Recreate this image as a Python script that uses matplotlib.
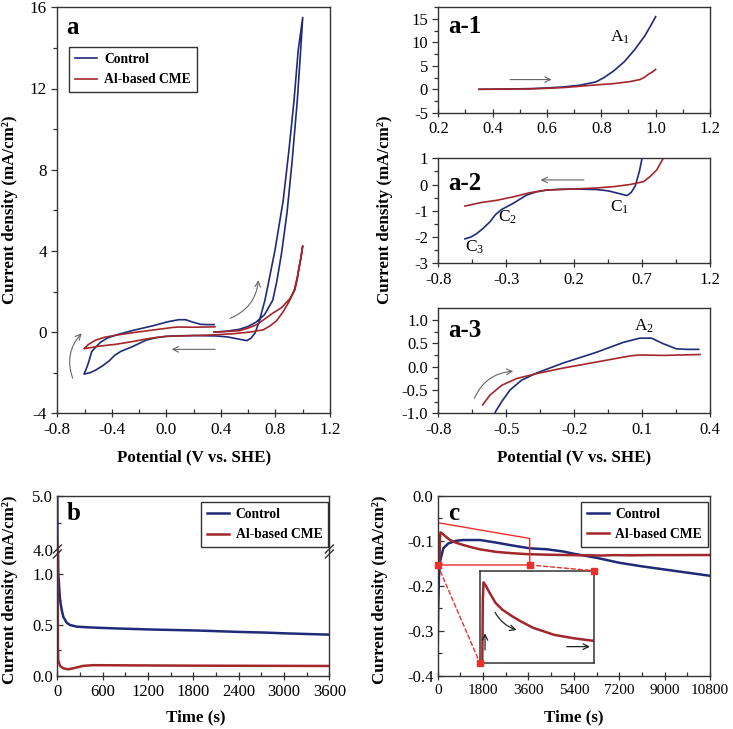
import matplotlib
matplotlib.use('Agg')
import matplotlib.pyplot as plt
import numpy as np
from matplotlib.ticker import FixedLocator, FormatStrFormatter
from matplotlib.patches import ConnectionPatch
from matplotlib.lines import Line2D

plt.rcParams['font.family'] = ['Liberation Serif', 'DejaVu Serif']
plt.rcParams['mathtext.fontset'] = 'custom'
plt.rcParams['mathtext.rm'] = 'Liberation Serif'
plt.rcParams['mathtext.it'] = 'Liberation Serif:italic'
plt.rcParams['axes.unicode_minus'] = False

# ---------------- DATA ----------------
# Cyclic voltammetry, Control: forward 0.35->1.0, reverse 1.0->-0.6, forward -0.6->0.35
ctrl_fwd1_E = [0.35, 0.45, 0.537, 0.60, 0.66, 0.72, 0.78, 0.81, 0.845, 0.885, 0.922, 0.96, 0.982, 1.0]
ctrl_fwd1_I = [0.0, 0.05, 0.14, 0.28, 0.5, 0.86, 1.57, 2.5, 3.9, 5.9, 8.4, 11.4, 13.6, 15.5]
ctrl_rev_E = [1.0, 0.967, 0.936, 0.899, 0.857, 0.797, 0.745, 0.723, 0.70, 0.68, 0.65, 0.62, 0.59,
              0.55, 0.513, 0.45, 0.366, 0.2, 0.1, -0.003, -0.08, -0.15, -0.25, -0.334, -0.38,
              -0.42, -0.47, -0.518, -0.56, -0.604]
ctrl_rev_I = [15.5, 13.9, 11.4, 8.97, 6.5, 4.05, 2.3, 1.58, 1.0, 0.5, -0.05, -0.3, -0.42,
              -0.37, -0.32, -0.24, -0.19, -0.17, -0.18, -0.21, -0.28, -0.40, -0.72, -0.95, -1.15,
              -1.42, -1.67, -1.87, -2.0, -2.07]
ctrl_fwd2_E = [-0.604, -0.59, -0.573, -0.548, -0.52, -0.483, -0.432, -0.365, -0.248, -0.1, 0.017,
               0.09, 0.142, 0.194, 0.253, 0.30, 0.35]
ctrl_fwd2_I = [-2.07, -1.85, -1.54, -0.97, -0.75, -0.5, -0.29, -0.135, 0.078, 0.31, 0.52,
               0.61, 0.61, 0.49, 0.38, 0.37, 0.37]

# Cyclic voltammetry, Al-based CME
cme_fwd1_E = [0.35, 0.45, 0.537, 0.60, 0.66, 0.72, 0.78, 0.844, 0.905, 0.942, 0.96, 0.973, 0.988, 1.0]
cme_fwd1_I = [0.0, 0.03, 0.07, 0.2, 0.36, 0.64, 0.93, 1.2, 1.64, 2.07, 2.6, 3.2, 3.7, 4.25]
cme_rev_E = [1.0, 0.98, 0.96, 0.935, 0.9, 0.856, 0.807, 0.758, 0.71, 0.61, 0.49, 0.366, 0.2,
             -0.003, -0.125, -0.25, -0.37, -0.49, -0.604]
cme_rev_I = [4.25, 3.4, 2.7, 2.0, 1.5, 1.0, 0.55, 0.30, 0.11, 0.0, -0.08, -0.13, -0.17,
             -0.21, -0.31, -0.47, -0.6, -0.69, -0.82]
cme_fwd2_E = [-0.604, -0.601, -0.572, -0.52, -0.454, -0.366, -0.248, -0.1, 0.047, 0.09, 0.194, 0.356]
cme_fwd2_I = [-0.82, -0.80, -0.61, -0.40, -0.255, -0.15, -0.03, 0.1, 0.23, 0.25, 0.24, 0.26]

# Chronoamperometry (b)
b_ctrl_t = [0, 4, 13, 36, 58, 80, 124, 168, 256, 433, 786, 1227, 1884, 2400, 2768, 3000, 3600]
b_ctrl_j = [5.6, 1.6, 1.01, 0.747, 0.649, 0.58, 0.523, 0.50, 0.484, 0.476, 0.466, 0.456,
            0.445, 0.432, 0.425, 0.418, 0.405]
b_cme_t = [0, 8, 13, 36, 80, 146, 212, 344, 476, 700, 1200, 1800, 2400, 3000, 3600]
b_cme_j = [4.18, 0.3, 0.15, 0.096, 0.073, 0.063, 0.073, 0.097, 0.104, 0.103, 0.101, 0.099,
           0.098, 0.097, 0.096]

# Chronoamperometry (c)
c_ctrl_t = [0, 20, 50, 91, 222, 420, 750, 1015, 1678, 2340, 3000, 3660, 4320, 4980, 5400,
            6300, 7200, 8100, 9000, 9900, 10800]
c_ctrl_j = [-0.34, -0.25, -0.18, -0.147, -0.117, -0.106, -0.100, -0.0985, -0.0985, -0.1044,
            -0.111, -0.117, -0.119, -0.124, -0.129, -0.138, -0.149, -0.157, -0.164, -0.171, -0.178]
c_cme_t = [0, 70, 90, 110, 200, 300, 488, 700, 1015, 1300, 1678, 2000, 2340, 3000, 3600,
           4300, 4980, 6000, 6500, 7000, 7627, 8500, 9500, 10800]
c_cme_j = [-0.17, -0.155, -0.095, -0.0814, -0.085, -0.090, -0.0984, -0.104, -0.1096, -0.114,
           -0.1192, -0.122, -0.125, -0.128, -0.130, -0.131, -0.1318, -0.1325, -0.133, -0.132,
           -0.1325, -0.132, -0.132, -0.1318]

series_labels = ['Control', 'Al-based CME']

a_xticks = [-0.8, -0.4, 0.0, 0.4, 0.8, 1.2]
a_yticks = [-4, 0, 4, 8, 12, 16]
a1_xticks = [0.2, 0.4, 0.6, 0.8, 1.0, 1.2]
a1_yticks = [-5, 0, 5, 10, 15]
a2_xticks = [-0.8, -0.3, 0.2, 0.7, 1.2]
a2_yticks = [-3, -2, -1, 0, 1]
a3_xticks = [-0.8, -0.5, -0.2, 0.1, 0.4]
a3_yticks = [-1.0, -0.5, 0.0, 0.5, 1.0]
b_xticks = [0, 600, 1200, 1800, 2400, 3000, 3600]
b_yticks_low = [0.0, 0.5, 1.0]
b_yticks_up = [4.0, 5.0]
c_xticks = [0, 1800, 3600, 5400, 7200, 9000, 10800]
c_yticks = [-0.4, -0.3, -0.2, -0.1, 0.0]

# ---------------- STYLE ----------------
BLUE = '#1f2a78'
RED = '#a3262b'
BOX_RED = '#e8302c'
SPINE = '#333333'
ARROW = '#666666'
W, H = 733, 729


def rect(l, t, r, b):
    return [l / W, 1 - b / H, (r - l) / W, (b - t) / H]


def mids(t):
    t = np.asarray(t, dtype=float)
    return (t[:-1] + t[1:]) / 2


def style(ax, xt, yt, xfmt, yfmt, xminor, yminor, xdir='inout', ydir='out', fs=12, xfs=None):
    for s in ax.spines.values():
        s.set_color(SPINE)
        s.set_linewidth(1.0)
    ax.set_xticks(xt)
    ax.set_yticks(yt)
    ax.xaxis.set_minor_locator(FixedLocator(xminor))
    ax.yaxis.set_minor_locator(FixedLocator(yminor))
    ax.xaxis.set_major_formatter(FormatStrFormatter(xfmt))
    ax.yaxis.set_major_formatter(FormatStrFormatter(yfmt))
    ax.tick_params(axis='x', which='major', direction=xdir, length=6 if xdir == 'inout' else 4,
                   width=0.9, color=SPINE, labelsize=xfs or fs, pad=3)
    ax.tick_params(axis='x', which='minor', direction='in', length=3, width=0.9, color=SPINE)
    ax.tick_params(axis='y', which='major', direction=ydir, length=4.5, width=0.9, color=SPINE,
                   labelsize=fs, pad=3)
    ax.tick_params(axis='y', which='minor', direction=ydir, length=3, width=0.9, color=SPINE)


def add_legend(ax, handles, anchor):
    leg = ax.legend(handles, series_labels, loc='upper left', bbox_to_anchor=anchor,
                    borderaxespad=0, fancybox=False, frameon=True, edgecolor='black',
                    prop={'weight': 'bold', 'size': 9.8}, handlelength=1.6,
                    handletextpad=0.5, labelspacing=0.55, borderpad=0.45)
    leg.get_frame().set_linewidth(1.0)
    return leg


def arrow(ax, xy0, xy1, rad=0.0, color=ARROW, lw=0.8, coords='data'):
    ax.annotate('', xy=xy1, xytext=xy0, xycoords=coords, textcoords=coords,
                arrowprops=dict(arrowstyle='->', color=color, lw=lw,
                                connectionstyle='arc3,rad=%s' % rad,
                                shrinkA=0, shrinkB=0, mutation_scale=10))


fig = plt.figure(figsize=(W / 100, H / 100), dpi=100)

ctrl_E = ctrl_fwd1_E + ctrl_rev_E + ctrl_fwd2_E
ctrl_I = ctrl_fwd1_I + ctrl_rev_I + ctrl_fwd2_I
cme_E = cme_fwd1_E + cme_rev_E + cme_fwd2_E
cme_I = cme_fwd1_I + cme_rev_I + cme_fwd2_I

# ---------------- panel a ----------------
ax = fig.add_axes(rect(57.3, 7.3, 330, 413.3))
l1, = ax.plot(ctrl_E, ctrl_I, color=BLUE, lw=1.2)
l2, = ax.plot(cme_E, cme_I, color=RED, lw=1.2)
ax.set_xlim(-0.8, 1.2)
ax.set_ylim(-4, 16)
style(ax, a_xticks, a_yticks, '%.1f', '%d', mids(a_xticks), mids(a_yticks), fs=12.3)
add_legend(ax, [l1, l2], (0.044, 0.903))
ax.text(0.034, 0.935, 'a', transform=ax.transAxes, fontsize=18, fontweight='bold', va='baseline')
arrow(ax, (0.467, 0.68), (0.675, 2.56), rad=0.3)
arrow(ax, (0.357, -0.85), (0.039, -0.85))
arrow(ax, (-0.687, -2.27), (-0.621, -0.06), rad=-0.3)

# ---------------- panel a-1 ----------------
ax1 = fig.add_axes(rect(438.3, 7.3, 710, 112.7))
ax1.plot(ctrl_fwd1_E, ctrl_fwd1_I, color=BLUE, lw=1.2)
ax1.plot(cme_fwd1_E, cme_fwd1_I, color=RED, lw=1.2)
ax1.set_xlim(0.2, 1.2)
ax1.set_ylim(-5, 17.5)
style(ax1, a1_xticks, a1_yticks, '%.1f', '%d', mids(a1_xticks), list(mids(a1_yticks)) + [17.5])
ax1.text(0.037, 0.753, 'a-1', transform=ax1.transAxes, fontsize=18, fontweight='bold', va='baseline')
ax1.text(0.869, 11.1, r'A$_1$', fontsize=12.5, ha='center', va='center')
arrow(ax1, (0.464, 2.07), (0.617, 2.07))

# ---------------- panel a-2 ----------------
ax2 = fig.add_axes(rect(438.3, 158.3, 710, 263.3))
ax2.plot(ctrl_rev_E, ctrl_rev_I, color=BLUE, lw=1.2)
ax2.plot(cme_rev_E, cme_rev_I, color=RED, lw=1.2)
ax2.set_xlim(-0.8, 1.2)
ax2.set_ylim(-3, 1)
style(ax2, a2_xticks, a2_yticks, '%.1f', '%d', mids(a2_xticks), mids(a2_yticks))
ax2.text(0.037, 0.698, 'a-2', transform=ax2.transAxes, fontsize=18, fontweight='bold', va='baseline')
ax2.text(0.537, -0.875, r'C$_1$', fontsize=12.5, ha='center', va='center')
ax2.text(-0.29, -1.23, r'C$_2$', fontsize=12.5, ha='center', va='center')
ax2.text(-0.535, -2.4, r'C$_3$', fontsize=12.5, ha='center', va='center')
arrow(ax2, (0.272, 0.175), (-0.047, 0.175))

# ---------------- panel a-3 ----------------
ax3 = fig.add_axes(rect(438.3, 308.3, 710, 413.3))
ax3.plot(ctrl_fwd2_E, ctrl_fwd2_I, color=BLUE, lw=1.2)
ax3.plot(cme_fwd2_E, cme_fwd2_I, color=RED, lw=1.2)
ax3.set_xlim(-0.8, 0.4)
ax3.set_ylim(-1, 1.25)
style(ax3, a3_xticks, a3_yticks, '%.1f', '%.1f', mids(a3_xticks), mids(a3_yticks))
ax3.text(0.037, 0.724, 'a-3', transform=ax3.transAxes, fontsize=18, fontweight='bold', va='baseline')
ax3.text(0.110, 0.865, r'A$_2$', fontsize=12.5, ha='center', va='center')
arrow(ax3, (-0.641, -0.68), (-0.469, -0.1), rad=-0.3)

# ---------------- panel b (broken axis) ----------------
axbt = fig.add_axes(rect(57.3, 495.7, 329.3, 550))
axbb = fig.add_axes(rect(57.3, 550, 329.3, 675.7))
for a_ in (axbt, axbb):
    lb1, = a_.plot(b_ctrl_t, b_ctrl_j, color=BLUE, lw=1.8)
    lb2, = a_.plot(b_cme_t, b_cme_j, color=RED, lw=1.8)
    a_.set_xlim(0, 3600)
axbt.set_ylim(4.0, 5.0)
axbb.set_ylim(0, 1.24)
style(axbb, b_xticks, b_yticks_low, '%d', '%.1f', mids(b_xticks), [0.25, 0.75], ydir='in')
style(axbt, b_xticks, b_yticks_up, '%d', '%.1f', mids(b_xticks), [4.5], ydir='in')
axbt.tick_params(axis='x', which='both', bottom=False, labelbottom=False)
axbt.spines['bottom'].set_visible(False)
axbb.spines['top'].set_visible(False)
add_legend(axbt, [lb1, lb2], (0.528, 0.89))
axbt.text(0.035, 0.553, 'b', transform=axbt.transAxes, fontsize=18, fontweight='bold', va='baseline')
# break marks
for xb in (57.3, 329.3):
    for dy in (0, 5):
        fig.add_artist(Line2D([(xb - 4) / W, (xb + 4) / W],
                              [1 - (553 + dy) / H, 1 - (545 + dy) / H],
                              color=SPINE, lw=1.0, transform=fig.transFigure))

# ---------------- panel c ----------------
axc = fig.add_axes(rect(437.7, 495.7, 710, 675.7))
lc1, = axc.plot(c_ctrl_t, c_ctrl_j, color=BLUE, lw=1.8)
lc2, = axc.plot(c_cme_t, c_cme_j, color=RED, lw=1.8)
axc.set_xlim(0, 10800)
axc.set_ylim(-0.4, 0.0)
style(axc, c_xticks, c_yticks, '%d', '%.1f', mids(c_xticks), mids(c_yticks), ydir='in', xfs=11)
add_legend(axc, [lc1, lc2], (0.525, 0.967))
axc.text(0.039, 0.865, 'c', transform=axc.transAxes, fontsize=18, fontweight='bold', va='baseline')
# zoom box
axc.plot([0, 3650, 3650, 0, 0], [-0.06, -0.095, -0.154, -0.154, -0.06], color=BOX_RED, lw=1.0)

axin = fig.add_axes(rect(480, 570.7, 594, 663.3))
axin.plot(c_cme_t, c_cme_j, color=RED, lw=1.8)
axin.set_xlim(0, 3600)
axin.set_ylim(-0.1486, -0.0718)
axin.set_xticks([])
axin.set_yticks([])
for s in axin.spines.values():
    s.set_color(SPINE)
    s.set_linewidth(1.1)
for (xa, ya), (xb_, yb_) in [((0, -0.154), (0, 0)), ((3650, -0.154), (1, 1))]:
    cp = ConnectionPatch(xyA=(xa, ya), coordsA=axc.transData, xyB=(xb_, yb_), coordsB=axin.transAxes,
                         color=BOX_RED, lw=1.0, linestyle=(0, (3, 2)))
    fig.add_artist(cp)
axc.plot([0, 3650], [-0.154, -0.154], 's', color=BOX_RED, ms=5, clip_on=False, zorder=5)
axin.plot([0, 1], [0, 1], 's', color=BOX_RED, ms=5, clip_on=False, zorder=5, transform=axin.transAxes)
arrow(axin, (0.044, 0.144), (0.044, 0.324), color='#222222', lw=0.9, coords='axes fraction')
arrow(axin, (0.132, 0.551), (0.322, 0.36), rad=0.2, color='#222222', lw=0.9, coords='axes fraction')
arrow(axin, (0.76, 0.18), (0.965, 0.18), color='#222222', lw=0.9, coords='axes fraction')

# ---------------- axis labels ----------------
ylab = 'Current density (mA/cm²)'
lab_kw = dict(fontsize=12.2, fontweight='bold', ha='center', va='center')
fig.text(10 / W, 1 - 210 / H, ylab, rotation=90, **lab_kw)
fig.text(385 / W, 1 - 210 / H, ylab, rotation=90, **lab_kw)
fig.text(10 / W, 1 - 590 / H, ylab, rotation=90, **lab_kw)
fig.text(380 / W, 1 - 590 / H, ylab, rotation=90, **lab_kw)
fig.text(193.7 / W, 1 - 457 / H, 'Potential (V vs. SHE)', **lab_kw)
fig.text(574 / W, 1 - 457 / H, 'Potential (V vs. SHE)', **lab_kw)
fig.text(196 / W, 1 - 717 / H, 'Time (s)', **lab_kw)
fig.text(574 / W, 1 - 717 / H, 'Time (s)', **lab_kw)

fig.savefig('out.png', dpi=100)
